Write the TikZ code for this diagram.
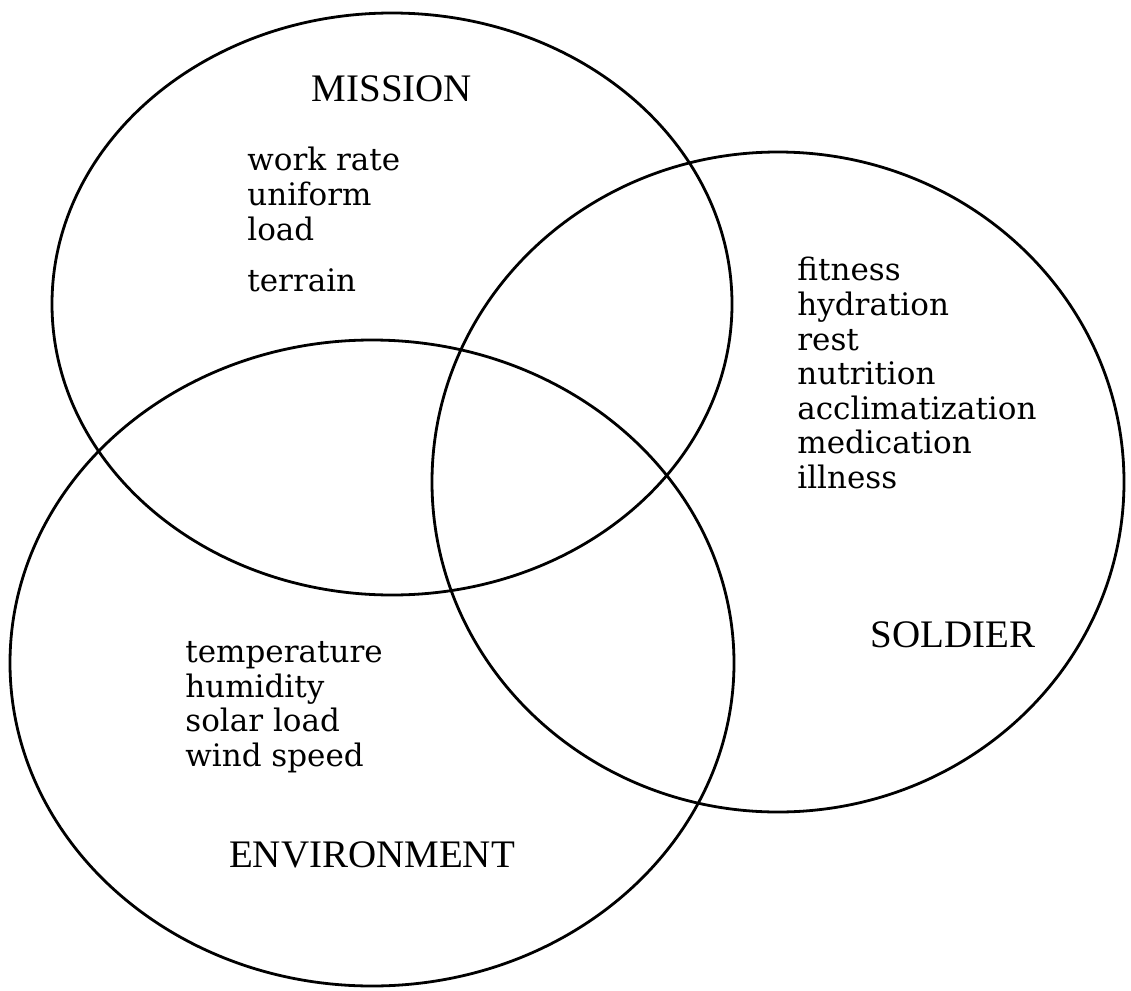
\documentclass[tikz,border=0pt]{standalone}
\usepackage{fontspec}
\usetikzlibrary{shapes.geometric}
\newfontfamily\capserif{Liberation Serif}
\newfontfamily\slabserif{DejaVu Serif}

\begin{document}
\begin{tikzpicture}[x=0.5pt,y=-0.5pt,
  set/.style={ellipse,draw,line width=1.4pt,inner sep=0pt},
  title/.style={font=\capserif\fontsize{19.5}{23}\selectfont,inner sep=0pt},
  items/.style={align=left,anchor=north west,inner sep=0pt,
    font=\slabserif\fontsize{15.5}{17.3}\selectfont}]

  \useasboundingbox (0,0) rectangle (1131,991);

  \node[set,minimum width=340pt,minimum height=291pt] (mission) at (392,304) {};
  \node[set,minimum width=346pt,minimum height=330pt] (soldier) at (778,482) {};
  \node[set,minimum width=362pt,minimum height=323pt] (environment) at (372,663) {};

  \node[title] (missiontitle) at (392,89) {MISSION};
  \node[title] (soldiertitle) at (953,635) {SOLDIER};
  \node[title] (envtitle) at (372,855) {ENVIRONMENT};

  \node[items] (missionlist) at (247,147) {work rate\\ uniform\\ load\\[8.5pt] terrain};
  \node[items] (soldierlist) at (797,257) {fitness\\ hydration\\ rest\\ nutrition\\ acclimatization\\ medication\\ illness};
  \node[items] (envlist) at (185,641) {temperature\\ humidity\\ solar load\\ wind speed};
\end{tikzpicture}
\end{document}
